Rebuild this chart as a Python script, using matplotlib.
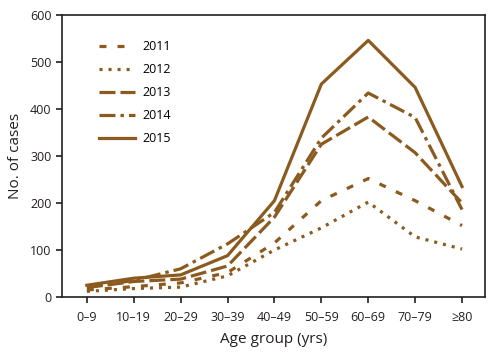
import matplotlib
matplotlib.use("Agg")
import matplotlib.pyplot as plt

plt.rcParams['font.family'] = ['Open Sans', 'DejaVu Sans']
plt.rcParams['lines.scale_dashes'] = False

categories = ["0–9", "10–19", "20–29", "30–39", "40–49", "50–59", "60–69", "70–79", "≥80"]
y2011 = [15, 22, 30, 52, 115, 205, 252, 205, 152]
y2012 = [12, 18, 21, 45, 100, 147, 202, 128, 102]
y2013 = [20, 33, 38, 66, 170, 325, 383, 307, 200]
y2014 = [22, 35, 60, 113, 180, 338, 434, 382, 186]
y2015 = [25, 40, 47, 88, 205, 453, 546, 446, 235]

color = '#8B5A1E'
text_color = '#231F20'
fig = plt.figure(figsize=(4.94, 3.58), dpi=100)
ax = fig.add_axes([62/494, 1-297/358, (485-62)/494, (297-15)/358])

x = list(range(len(categories)))
lw = 2.3
ax.plot(x, y2011, color=color, lw=lw, dashes=(5, 8), label='2011')
ax.plot(x, y2012, color=color, lw=lw, dashes=(2.2, 4.3), label='2012')
ax.plot(x, y2013, color=color, lw=lw, dashes=(11.5, 3.6), label='2013')
ax.plot(x, y2014, color=color, lw=lw, dashes=(11.5, 3.6, 2.5, 3.6), label='2014')
ax.plot(x, y2015, color=color, lw=lw, label='2015')

ax.set_xlim(-0.53, 8.49)
ax.set_ylim(0, 600)
ax.set_xticks(x)
ax.set_xticklabels(categories)
ax.set_yticks(range(0, 601, 100))
ax.tick_params(direction='out', length=4, width=1.2, labelsize=9, colors=text_color)
ax.tick_params(axis='x', pad=6)
for s in ax.spines.values():
    s.set_linewidth(1.2)
    s.set_color(text_color)
ax.set_xlabel('Age group (yrs)', fontsize=11, color=text_color, labelpad=6)
ax.set_ylabel('No. of cases', fontsize=11, color=text_color, labelpad=5)

ax.legend(loc='upper left', bbox_to_anchor=(0.06, 0.95), frameon=False,
          handlelength=2.9, handletextpad=0.6, labelspacing=0.8, fontsize=9)

fig.savefig('out.png', dpi=100)
